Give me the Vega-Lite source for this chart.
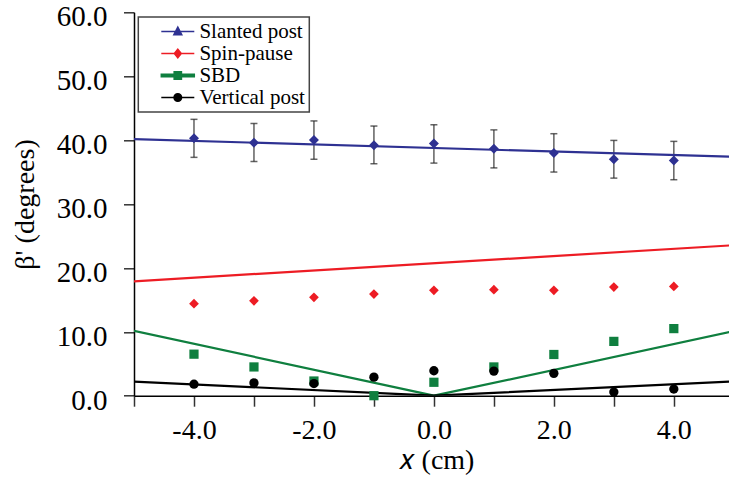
{
  "$schema": "https://vega.github.io/schema/vega-lite/v6.json",
  "width": 595,
  "height": 383.4,
  "autosize": {"type": "none"},
  "padding": {"left": 134, "top": 12.3, "right": 0, "bottom": 82.3},
  "config": {
    "view": {"stroke": null},
    "font": "Liberation Serif",
    "text": {"font": "Liberation Serif"},
    "axis": {
      "grid": false,
      "domainColor": "#000000",
      "domainWidth": 1.5,
      "tickColor": "#333333",
      "tickWidth": 1.5,
      "tickSize": 10.5,
      "labelOverlap": false,
      "labelFlush": false,
      "labelBound": false
    }
  },
  "datasets": {
    "fits": [
      {"series": "Slanted post", "x": -5, "y": 40.15},
      {"series": "Slanted post", "x": 5, "y": 37.38},
      {"series": "Spin-pause", "x": -5, "y": 17.9},
      {"series": "Spin-pause", "x": 5, "y": 23.55},
      {"series": "SBD", "x": -5, "y": 10.15},
      {"series": "SBD", "x": 0, "y": 0},
      {"series": "SBD", "x": 5, "y": 10.1},
      {"series": "Vertical post", "x": -5, "y": 2.2},
      {"series": "Vertical post", "x": 0, "y": 0},
      {"series": "Vertical post", "x": 5, "y": 2.24}
    ],
    "pts": [
      {"series": "Slanted post", "x": -4, "y": 40.3},
      {"series": "Slanted post", "x": -3, "y": 39.6},
      {"series": "Slanted post", "x": -2, "y": 40.0},
      {"series": "Slanted post", "x": -1, "y": 39.2},
      {"series": "Slanted post", "x": 0, "y": 39.45},
      {"series": "Slanted post", "x": 1, "y": 38.65},
      {"series": "Slanted post", "x": 2, "y": 38.0},
      {"series": "Slanted post", "x": 3, "y": 37.0},
      {"series": "Slanted post", "x": 4, "y": 36.8},
      {"series": "Spin-pause", "x": -4, "y": 14.4},
      {"series": "Spin-pause", "x": -3, "y": 14.85},
      {"series": "Spin-pause", "x": -2, "y": 15.4},
      {"series": "Spin-pause", "x": -1, "y": 15.9},
      {"series": "Spin-pause", "x": 0, "y": 16.5},
      {"series": "Spin-pause", "x": 1, "y": 16.6},
      {"series": "Spin-pause", "x": 2, "y": 16.5},
      {"series": "Spin-pause", "x": 3, "y": 17.0},
      {"series": "Spin-pause", "x": 4, "y": 17.1},
      {"series": "SBD", "x": -4, "y": 6.5},
      {"series": "SBD", "x": -3, "y": 4.5},
      {"series": "SBD", "x": -2, "y": 2.3},
      {"series": "SBD", "x": -1, "y": 0.0},
      {"series": "SBD", "x": 0, "y": 2.1},
      {"series": "SBD", "x": 1, "y": 4.5},
      {"series": "SBD", "x": 2, "y": 6.45},
      {"series": "SBD", "x": 3, "y": 8.5},
      {"series": "SBD", "x": 4, "y": 10.5},
      {"series": "Vertical post", "x": -4, "y": 1.8},
      {"series": "Vertical post", "x": -3, "y": 2.0},
      {"series": "Vertical post", "x": -2, "y": 1.9},
      {"series": "Vertical post", "x": -1, "y": 2.9},
      {"series": "Vertical post", "x": 0, "y": 3.9},
      {"series": "Vertical post", "x": 1, "y": 3.85},
      {"series": "Vertical post", "x": 2, "y": 3.5},
      {"series": "Vertical post", "x": 3, "y": 0.57},
      {"series": "Vertical post", "x": 4, "y": 1.04}
    ],
    "errs": [
      {"x": -4, "y": 37.3, "y2": 43.25},
      {"x": -3, "y": 36.65, "y2": 42.6},
      {"x": -2, "y": 37.0, "y2": 43.0},
      {"x": -1, "y": 36.3, "y2": 42.2},
      {"x": 0, "y": 36.4, "y2": 42.4},
      {"x": 1, "y": 35.65, "y2": 41.6},
      {"x": 2, "y": 35.0, "y2": 41.0},
      {"x": 3, "y": 34.05, "y2": 39.95},
      {"x": 4, "y": 33.8, "y2": 39.8}
    ],
    "caps": [
      {"x": -4, "y": 37.3}, {"x": -4, "y": 43.25},
      {"x": -3, "y": 36.65}, {"x": -3, "y": 42.6},
      {"x": -2, "y": 37.0}, {"x": -2, "y": 43.0},
      {"x": -1, "y": 36.3}, {"x": -1, "y": 42.2},
      {"x": 0, "y": 36.4}, {"x": 0, "y": 42.4},
      {"x": 1, "y": 35.65}, {"x": 1, "y": 41.6},
      {"x": 2, "y": 35.0}, {"x": 2, "y": 41.0},
      {"x": 3, "y": 34.05}, {"x": 3, "y": 39.95},
      {"x": 4, "y": 33.8}, {"x": 4, "y": 39.8}
    ]
  },
  "encoding": {
    "x": {
      "field": "x",
      "type": "quantitative",
      "scale": {"domain": [-5, 4.92], "nice": false, "zero": false},
      "axis": {
        "title": "𝑥 (cm)",
        "values": [-5, -4, -3, -2, -1, 0, 1, 2, 3, 4],
        "labelExpr": "datum.value % 2 === 0 ? (datum.value < 0 ? '-' : '') + format(abs(datum.value), '.1f') : ''",
        "labelFont": "Liberation Serif",
        "labelFontSize": 28,
        "labelColor": "#000000",
        "labelBaseline": "alphabetic",
        "labelPadding": 32.8,
        "titleFont": "Liberation Serif",
        "titleFontSize": 28,
        "titleFontWeight": "normal",
        "titleColor": "#000000",
        "titleX": 302,
        "titleY": 72.3,
        "titleBaseline": "alphabetic",
        "titleAlign": "center"
      }
    },
    "y": {
      "field": "y",
      "type": "quantitative",
      "scale": {"domain": [0, 60], "nice": false, "zero": false},
      "axis": {
        "title": "β' (degrees)",
        "values": [0, 10, 20, 30, 40, 50, 60],
        "labelExpr": "format(datum.value, '.1f')",
        "labelFont": "Liberation Serif",
        "labelFontSize": 29,
        "labelColor": "#000000",
        "labelPadding": 16.5,
        "labelOffset": 4.5,
        "titleFont": "Liberation Serif",
        "titleFontSize": 28,
        "titleFontWeight": "normal",
        "titleColor": "#000000",
        "titleX": -109,
        "titleY": 191.7,
        "titleAngle": 270,
        "titleBaseline": "middle",
        "titleAlign": "center"
      }
    },
    "color": {
      "field": "series",
      "type": "nominal",
      "scale": {
        "domain": ["Slanted post", "Spin-pause", "SBD", "Vertical post"],
        "range": ["#2E3192", "#ED1C24", "#0F7F3F", "#000000"]
      },
      "legend": {
        "orient": "none",
        "legendX": 4.3,
        "legendY": 4.7,
        "title": null,
        "padding": 4,
        "clipHeight": 21,
        "rowPadding": 0,
        "symbolSize": 1089,
        "symbolStrokeWidth": 1.5,
        "symbolOffset": 18,
        "labelOffset": 16.1,
        "labelFont": "Liberation Serif",
        "labelFontSize": 21,
        "labelColor": "#000000",
        "strokeColor": "#444444",
        "encode": {
          "legend": {"update": {"strokeWidth": {"value": 1.5}}},
          "labels": {"update": {"dx": {"value": -12}}},
          "symbols": {
            "update": {
              "shape": {"signal": "datum.value === 'Slanted post' ? 'M-1,0H1M0,-0.26L0.24,0.2L-0.24,0.2Z' : datum.value === 'Spin-pause' ? 'M-1,0H1M0,-0.26L0.21,0L0,0.26L-0.21,0Z' : datum.value === 'SBD' ? 'M-1,-0.07H1V0.07H-1ZM-0.22,-0.22H0.22V0.22H-0.22Z' : 'M-1,0H1M-0.23,0A0.23,0.23,0,1,1,0.23,0A0.23,0.23,0,1,1,-0.23,0Z'"},
              "size": {"value": 1089},
              "strokeWidth": {"value": 1.5},
              "fill": {"scale": "color", "field": "value"},
              "stroke": {"scale": "color", "field": "value"},
              "opacity": {"value": 1},
              "fillOpacity": {"value": 1},
              "strokeOpacity": {"value": 1}
            }
          }
        }
      }
    }
  },
  "layer": [
    {
      "data": {"name": "errs"},
      "mark": {"type": "rule", "strokeWidth": 1.6},
      "encoding": {
        "y2": {"field": "y2"},
        "color": {"value": "#6b6b6b"}
      }
    },
    {
      "data": {"name": "caps"},
      "mark": {"type": "tick", "orient": "horizontal", "size": 7, "thickness": 1.5},
      "encoding": {
        "color": {"value": "#222222"}
      }
    },
    {
      "data": {"name": "fits"},
      "mark": {"type": "line", "strokeWidth": 2.2, "clip": true}
    },
    {
      "data": {"name": "pts"},
      "transform": [{"filter": "datum.series === 'Slanted post'"}],
      "mark": {"type": "point", "shape": "diamond", "filled": true, "opacity": 1, "strokeWidth": 0, "size": 100}
    },
    {
      "data": {"name": "pts"},
      "transform": [{"filter": "datum.series === 'Spin-pause'"}],
      "mark": {"type": "point", "shape": "diamond", "filled": true, "opacity": 1, "strokeWidth": 0, "size": 95}
    },
    {
      "data": {"name": "pts"},
      "transform": [{"filter": "datum.series === 'SBD'"}],
      "mark": {"type": "point", "shape": "square", "filled": true, "opacity": 1, "strokeWidth": 0, "size": 85}
    },
    {
      "data": {"name": "pts"},
      "transform": [{"filter": "datum.series === 'Vertical post'"}],
      "mark": {"type": "point", "shape": "circle", "filled": true, "opacity": 1, "strokeWidth": 0, "size": 87}
    }
  ]
}
